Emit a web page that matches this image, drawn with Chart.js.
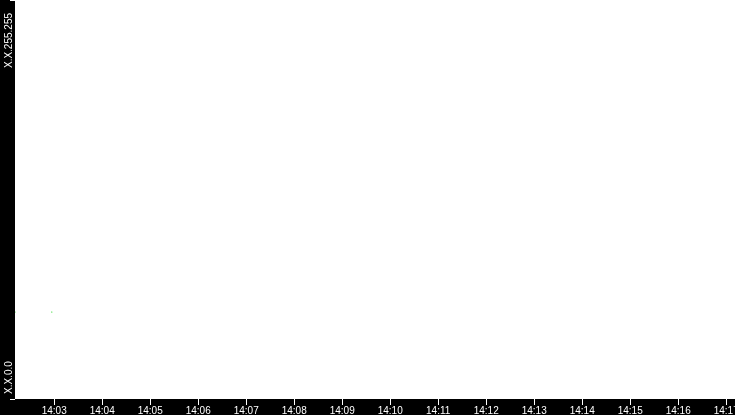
<!DOCTYPE html>
<html>
<head>
<meta charset="utf-8">
<script src="https://cdn.jsdelivr.net/npm/chart.js@4.4.0/dist/chart.umd.min.js"></script>
<style>
  html, body { margin: 0; padding: 0; background: #000; overflow: hidden; }
  canvas { display: block; }
</style>
</head>
<body>
<canvas id="chart" width="735" height="415"></canvas>
<script>
// sampled points (time of day, address as 16-bit value)
const pointTimes  = ['14:02:11', '14:02:57'];
const pointValues = [14290, 14290];

// visible window and axis labels
const windowStart   = '14:02:11';
const windowMinutes = 15;
const timeTicks  = ['14:03','14:04','14:05','14:06','14:07','14:08','14:09','14:10',
                    '14:11','14:12','14:13','14:14','14:15','14:16','14:17'];
const addrLabels = ['X.X.0.0', 'X.X.255.255'];
const addrValues = [0, 65535];

const FONT = '"Liberation Sans", Arial, sans-serif';

function toSec(t) {
  const p = t.split(':').map(Number);
  return p[0] * 3600 + p[1] * 60 + (p[2] || 0);
}

const startSec = toSec(windowStart);

// black frame around a white plot, rotated address labels on the left strip
const frame = {
  id: 'frame',
  beforeDraw(chart) {
    const { ctx, chartArea: a } = chart;
    ctx.save();
    ctx.fillStyle = '#000';
    ctx.fillRect(0, 0, chart.width, chart.height);
    ctx.fillStyle = '#fff';
    ctx.fillRect(a.left, a.top, a.right - a.left, a.bottom - a.top);
    ctx.restore();
  },
  afterDraw(chart) {
    const ctx = chart.ctx, y = chart.scales.y;
    ctx.save();
    ctx.fillStyle = '#fff';
    ctx.font = '10px ' + FONT;
    ctx.textBaseline = 'alphabetic';
    addrValues.forEach((v, i) => {
      const py = y.getPixelForValue(v);
      const isTop = i === addrValues.length - 1;
      ctx.save();
      ctx.translate(12, isTop ? py + 13 : py - 5);
      ctx.rotate(-Math.PI / 2);
      ctx.textAlign = isTop ? 'right' : 'left';
      ctx.fillText(addrLabels[i], 0, 0);
      ctx.restore();
    });
    ctx.restore();
  }
};

new Chart(document.getElementById('chart'), {
  type: 'scatter',
  data: {
    datasets: [{
      data: pointTimes.map((t, i) => ({ x: toSec(t), y: pointValues[i] })),
      backgroundColor: '#00d000',
      borderWidth: 0,
      pointRadius: 0.6,
      pointHoverRadius: 0.6
    }]
  },
  options: {
    responsive: false,
    devicePixelRatio: 1,
    animation: false,
    layout: { padding: 0, autoPadding: false },
    plugins: { legend: { display: false }, tooltip: { enabled: false } },
    scales: {
      x: {
        type: 'linear',
        min: startSec,
        max: startSec + windowMinutes * 60,
        afterBuildTicks: s => { s.ticks = timeTicks.map(t => ({ value: toSec(t) })); },
        afterFit: s => { s.height = 16; s.paddingLeft = 0; s.paddingRight = 0; },
        border: { display: false },
        grid: { drawOnChartArea: false, tickLength: 6, color: '#fff', tickColor: '#fff' },
        ticks: {
          color: '#fff',
          font: { family: FONT, size: 10 },
          padding: 0,
          minRotation: 0,
          maxRotation: 0,
          autoSkip: false,
          callback: (v, i) => timeTicks[i]
        }
      },
      y: {
        min: addrValues[0],
        max: addrValues[addrValues.length - 1],
        afterBuildTicks: s => { s.ticks = addrValues.map(v => ({ value: v })); },
        afterFit: s => { s.width = 15; s.paddingTop = 0; s.paddingBottom = 0; },
        border: { display: false },
        grid: { drawOnChartArea: false, tickLength: 5, color: '#fff', tickColor: '#fff' },
        ticks: { display: false }
      }
    }
  },
  plugins: [frame]
});
</script>
</body>
</html>
